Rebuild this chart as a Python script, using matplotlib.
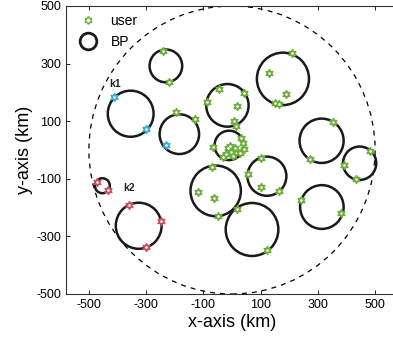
import matplotlib
matplotlib.use('Agg')
import matplotlib.pyplot as plt
from matplotlib.patches import Circle
from matplotlib.lines import Line2D

plt.rcParams['font.family'] = ['Liberation Sans', 'DejaVu Sans']
plt.rcParams['axes.unicode_minus'] = False

# users (km)
green_x = [-241, -220, -194, -128, -45, 42, -89, 19, 7, 15, 211, 129, 190, 149, 164,
           -66, -14, -2, 9, -20, 4, 38, 41, 27, -31, -8, 33,
           -70, -118, -63, -49, 17, 103, 56, 103, 163, 122, 353, 271, 481, 392, 432, 241, 382]
green_y = [345, 235, 132, 107, 211, 199, 167, 152, 101, 83, 336, 268, 193, 164, 159,
           11, 6, -6, 6, -14, -21, 25, 3, -11, -23, 14, 40,
           -58, -145, -165, -229, -206, -29, -83, -127, -142, -347, 98, -32, -3, -52, -100, -175, -218]
cyan_x = [-412, -299, -231]
cyan_y = [183, 73, 17]
red_x = [-471, -433, -359, -249, -301]
red_y = [-110, -139, -191, -247, -336]

# base stations: centre and coverage radius (km)
bp_x = [-231, -354, -184, -16, 178, -10, 313, 446, 314, -57, 122, 70, -453, -326]
bp_y = [292, 126, 55, 155, 247, 16, 32, -46, -198, -142, -91, -276, -124, -263]
bp_r = [57, 80, 69, 74, 91, 51, 77, 58, 76, 88, 68, 92, 26, 80]

area_r = 500
ticks = [-500, -300, -100, 100, 300, 500]

green = '#6cad3a'
cyan = '#3aaad6'
red = '#cc4f58'

fig = plt.figure(figsize=(3.93, 3.46), dpi=100)
ax = fig.add_axes([66 / 393, 52 / 346, 332 / 393, 288 / 346])

# service area
ax.add_patch(Circle((0, 0), area_r, fill=False, ls=(0, (4, 4)), lw=0.9, color='black'))

for x, y, r in zip(bp_x, bp_y, bp_r):
    ax.add_patch(Circle((x, y), r, fill=False, lw=1.8, color='#1a1a1a', zorder=3))

for xs, ys, c in [(green_x, green_y, green), (cyan_x, cyan_y, cyan), (red_x, red_y, red)]:
    ax.scatter(xs, ys, marker=(6, 1, 0), s=28, color=c, zorder=4, linewidths=1.3, edgecolors=c)
    ax.scatter(xs, ys, marker='o', s=3.5, color='white', zorder=5, linewidths=0)

ax.text(-409, 212, 'k1', fontsize=7.5, fontweight='bold', ha='center', va='bottom', color='#222222')
ax.text(-359, -150, 'k2', fontsize=7.5, fontweight='bold', ha='center', va='bottom', color='#222222')

ax.set_xlim(-580, 580)
ax.set_ylim(-500, 500)
ax.set_xticks(ticks)
ax.set_yticks(ticks)
ax.tick_params(direction='in', top=True, right=True, length=3, labelsize=9, width=0.6)
for s in ax.spines.values():
    s.set_color('#333333')
    s.set_linewidth(0.8)

ax.set_xlabel('x-axis (km)', fontsize=13, labelpad=2)
ax.set_ylabel('y-axis (km)', fontsize=13, labelpad=2)

user_handle = Line2D([], [], marker=(6, 1, 0), color=green, mec=green, mew=1.3, ls='none', markersize=5.5)
dot_handle = Line2D([], [], marker='o', color='white', ls='none', markersize=1.8)
bp_handle = Line2D([], [], marker='o', mfc='none', mec='#1a1a1a', mew=2, ls='none', markersize=12)
ax.legend([(user_handle, dot_handle), bp_handle], ['user', 'BP'], loc='upper left', frameon=False,
          fontsize=10, handletextpad=0.6, borderaxespad=0.2, labelspacing=0.5)

fig.savefig('out.png', dpi=100)
